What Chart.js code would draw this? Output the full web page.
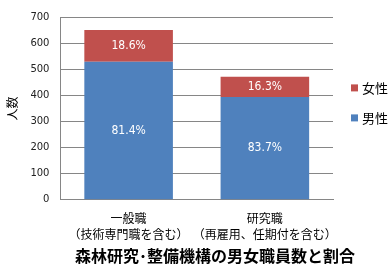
<!DOCTYPE html>
<html>
<head>
<meta charset="utf-8">
<script src="https://cdn.jsdelivr.net/npm/chart.js@4"></script>
<style>
  body { margin: 0; background: #fff; }
  #wrap { width: 392px; height: 271px; }
</style>
</head>
<body>
<div id="wrap"><canvas id="chart"></canvas></div>
<script>
const categories = [["一般職", "（技術専門職を含む）"], ["研究職", "（再雇用、任期付を含む）"]];
const maleCounts = [529, 394];
const femaleCounts = [121, 77];
const maleShare = ["81.4%", "83.7%"];
const femaleShare = ["18.6%", "16.3%"];
const yTicks = [0, 100, 200, 300, 400, 500, 600, 700];
const chartTitle = "森林研究･整備機構の男女職員数と割合";

const JP = '"Noto Sans CJK JP", "DejaVu Sans", sans-serif';

// share labels inside the segments, legend at the right, title below
const extras = {
  id: "extras",
  afterDatasetsDraw(chart) {
    const ctx = chart.ctx;
    const area = chart.chartArea;
    ctx.save();
    ctx.fillStyle = "#fff";
    ctx.font = '12px "DejaVu Sans Condensed", "DejaVu Sans", sans-serif';
    ctx.textAlign = "center";
    ctx.textBaseline = "middle";
    chart.data.datasets.forEach((ds, i) => {
      chart.getDatasetMeta(i).data.forEach((bar, j) => {
        const mid = (bar.y + bar.base) / 2;
        ctx.fillText(ds.shares[j], bar.x, mid);
      });
    });

    // legend, top item is the last dataset
    const items = chart.data.datasets.slice().reverse();
    const x0 = area.right + 18;
    let y = (area.top + area.bottom) / 2 - 21;
    ctx.font = "13px " + JP;
    ctx.textAlign = "left";
    items.forEach(ds => {
      ctx.fillStyle = ds.backgroundColor;
      ctx.fillRect(x0, y - 3, 7, 7);
      ctx.fillStyle = "#000";
      ctx.fillText(ds.label, x0 + 11, y + 1);
      y += 30;
    });

    ctx.font = "bold 16px " + JP;
    ctx.textAlign = "center";
    ctx.fillText(chartTitle, 215, chart.height - 15);
    ctx.restore();
  }
};

new Chart(document.getElementById("chart").getContext("2d"), {
  type: "bar",
  data: {
    labels: categories,
    datasets: [
      { label: "男性", data: maleCounts, shares: maleShare, backgroundColor: "#4F81BD" },
      { label: "女性", data: femaleCounts, shares: femaleShare, backgroundColor: "#C0504D" }
    ]
  },
  options: {
    responsive: true,
    maintainAspectRatio: false,
    animation: false,
    layout: { padding: { top: 7, left: 5, right: 59, bottom: 18 } },
    datasets: { bar: { categoryPercentage: 0.65, barPercentage: 1 } },
    scales: {
      x: {
        stacked: true,
        grid: { display: false, drawTicks: false },
        border: { color: "#868686" },
        ticks: { color: "#000", font: { family: JP, size: 12, lineHeight: 1.3 }, padding: 11, maxRotation: 0, autoSkip: false }
      },
      y: {
        stacked: true,
        min: 0,
        max: 700,
        afterBuildTicks(axis) { axis.ticks = yTicks.map(v => ({ value: v })); },
        grid: { color: "#868686", drawTicks: false },
        border: { color: "#868686" },
        ticks: { color: "#222", font: { family: '"DejaVu Sans", sans-serif', size: 10 }, padding: 11 },
        title: { display: true, text: "人数", color: "#000", font: { family: JP, size: 12 }, padding: 0 }
      }
    },
    plugins: {
      legend: { display: false },
      title: { display: false },
      tooltip: { enabled: false }
    }
  },
  plugins: [extras]
});
</script>
</body>
</html>
